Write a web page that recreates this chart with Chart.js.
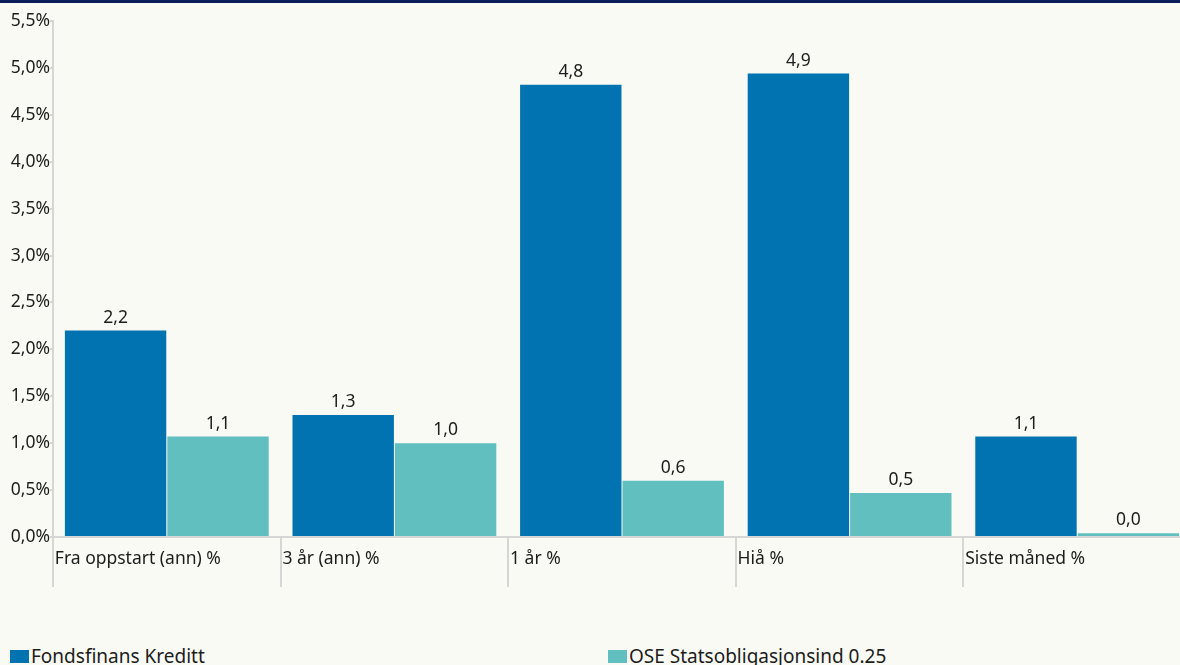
<!DOCTYPE html>
<html>
<head>
<meta charset="utf-8">
<script src="https://cdn.jsdelivr.net/npm/chart.js@4"></script>
<style>
  html, body { margin:0; padding:0; background:#fafaf4; overflow:hidden; width:1180px; height:665px; }
  #topbar { position:absolute; left:0; top:0; width:1180px; height:3px; background:#0b1e5b; }
  #wrap { position:absolute; left:0; top:0; width:1191px; height:600px; }
  #legend { position:absolute; left:0; top:643px; width:1180px; font-family:"Noto Sans", sans-serif; font-size:19px; color:#1c1c1c; }
  .item { position:absolute; top:0; display:flex; align-items:center; white-space:nowrap; }
  .box { width:19px; height:13px; margin-right:2px; }
</style>
</head>
<body>
<div id="topbar"></div>
<div id="wrap"><canvas id="chart" width="1191" height="600"></canvas></div>
<div id="legend"></div>
<script>
const categories = ['Fra oppstart (ann) %', '3 år (ann) %', '1 år %', 'Hiå %', 'Siste måned %'];
const seriesNames = ['Fondsfinans Kreditt', 'OSE Statsobligasjonsind 0.25'];
const fondsValues = [2.2, 1.3, 4.82, 4.94, 1.07];   // blå søyler
const oseValues   = [1.07, 1.0, 0.6, 0.47, 0.04];   // turkise søyler
const yTicks = [0, 0.5, 1, 1.5, 2, 2.5, 3, 3.5, 4, 4.5, 5, 5.5];
const colors = ['#0073b0', '#61c0bf'];

const fontFam = '"Noto Sans", sans-serif';
const txt = '#1c1c1c';
const grey = '#d6d6d6';
const fmt = v => v.toFixed(1).replace('.', ',');

const valueLabels = { // tall over søylene
  id: 'valueLabels',
  afterDatasetsDraw(chart){
    const ctx = chart.ctx;
    ctx.save();
    ctx.font = '17.5px ' + fontFam;
    ctx.fillStyle = txt;
    ctx.textAlign = 'center';
    ctx.textBaseline = 'bottom';
    chart.data.datasets.forEach((ds, i) => {
      chart.getDatasetMeta(i).data.forEach((bar, j) => {
        ctx.fillText(fmt(ds.data[j]), bar.x, bar.y - 4);
      });
    });
    ctx.restore();
  }
};

new Chart(document.getElementById('chart'), {
  type: 'bar',
  data: {
    labels: categories,
    datasets: [
      { label: seriesNames[0], data: fondsValues, backgroundColor: colors[0] },
      { label: seriesNames[1], data: oseValues, backgroundColor: colors[1] }
    ]
  },
  options: {
    responsive: false,
    animation: false,
    categoryPercentage: 0.9,
    barPercentage: 0.99,
    layout: { padding: { top: 21, right: 0, left: 0, bottom: 0 } },
    plugins: { legend: { display: false }, tooltip: { enabled: false } },
    scales: {
      x: {
        grid: { offset: true, drawOnChartArea: false, tickLength: 50, color: grey, lineWidth: 2 },
        border: { display: true, color: grey, width: 2 },
        ticks: { align: 'start', labelOffset: -112, padding: -38, color: txt, font: { family: fontFam, size: 17.5 }, maxRotation: 0 },
        afterFit(s){ s.height = 63; s.paddingLeft = 0; s.paddingRight = 0; }
      },
      y: {
        min: 0, max: 5.5,
        afterBuildTicks(s){ s.ticks = yTicks.map(v => ({ value: v })); },
        grid: { drawOnChartArea: false, tickLength: 3, color: grey, lineWidth: 2 },
        border: { display: true, color: grey, width: 2 },
        ticks: { padding: 0, color: txt, font: { family: fontFam, size: 17.5 }, callback: v => fmt(v) + '%' },
        afterFit(s){ s.width = 53; }
      }
    }
  },
  plugins: [valueLabels]
});

// legende
const legend = document.getElementById('legend');
const legendX = [10, 608];
seriesNames.forEach((name, i) => {
  const it = document.createElement('div');
  it.className = 'item';
  it.style.left = legendX[i] + 'px';
  const b = document.createElement('span');
  b.className = 'box';
  b.style.background = colors[i];
  const t = document.createElement('span');
  t.textContent = name;
  it.append(b, t);
  legend.appendChild(it);
});
</script>
</body>
</html>
